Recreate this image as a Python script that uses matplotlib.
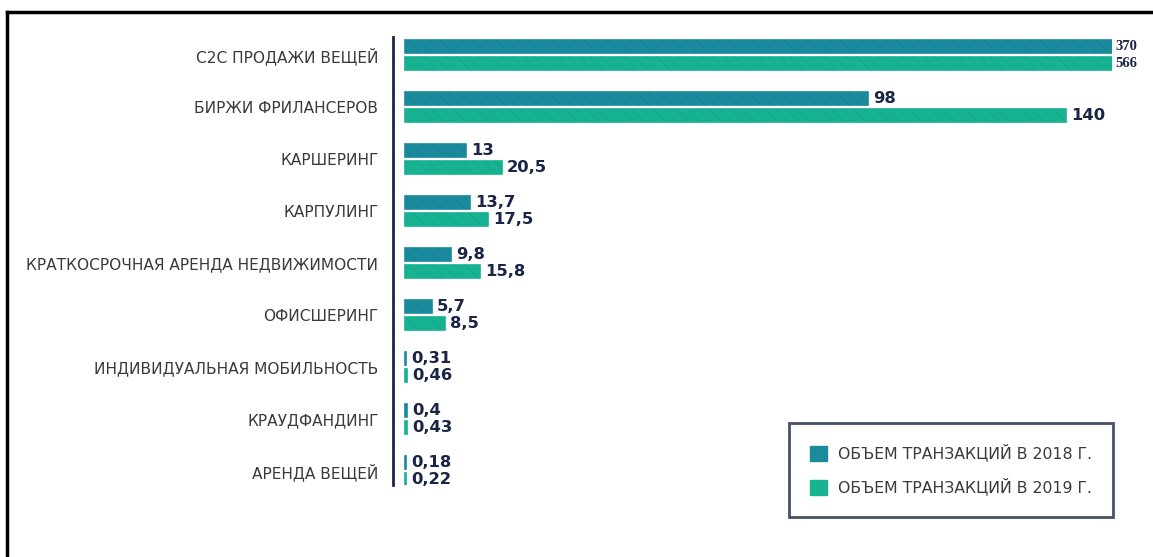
import numpy as np
import matplotlib
matplotlib.use("Agg")
from matplotlib import pyplot as plt
from matplotlib.patches import Patch
from matplotlib.lines import Line2D

categories = [
    "C2C ПРОДАЖИ ВЕЩЕЙ",
    "БИРЖИ ФРИЛАНСЕРОВ",
    "КАРШЕРИНГ",
    "КАРПУЛИНГ",
    "КРАТКОСРОЧНАЯ АРЕНДА НЕДВИЖИМОСТИ",
    "ОФИСШЕРИНГ",
    "ИНДИВИДУАЛЬНАЯ МОБИЛЬНОСТЬ",
    "КРАУДФАНДИНГ",
    "АРЕНДА ВЕЩЕЙ",
]
values_2018 = [370, 98, 13, 13.7, 9.8, 5.7, 0.31, 0.4, 0.18]
values_2019 = [566, 140, 20.5, 17.5, 15.8, 8.5, 0.46, 0.43, 0.22]
series_labels = ["ОБЪЕМ ТРАНЗАКЦИЙ В 2018 Г.", "ОБЪЕМ ТРАНЗАКЦИЙ В 2019 Г."]

c18 = "#1a8a9c"
c19 = "#17b292"
navy = "#1a2444"

W, H = 1153, 557
fig = plt.figure(figsize=(W / 100, H / 100), dpi=100)
fig.patch.set_facecolor("white")

# axes placed in pixel terms of the reference
ax = fig.add_axes([393 / W, 1 - 485 / H, (1112 - 393) / W, (485 - 37) / H])
ax.set_facecolor("none")

scale = 4.72  # px per unit
xmin = -12 / scale
xmax = (1112 - 405) / scale
ax.set_xlim(xmin, xmax)

y = np.arange(len(categories))
ax.set_ylim(len(categories) - 1 + 0.27, -0.346)

bh = 0.25
off = 0.165
plt.rcParams["hatch.linewidth"] = 0.5
ax.barh(y - off, values_2018, height=bh, color=c18, edgecolor=c18, linewidth=1.2)
ax.barh(y + off, values_2019, height=bh, color=c19, edgecolor=c19, linewidth=1.2)
# subtle texture on the bars
ax.barh(y - off, values_2018, height=bh, facecolor="none", edgecolor="#0f6f80", linewidth=0, hatch="\\\\\\", alpha=0.35)
ax.barh(y + off, values_2019, height=bh, facecolor="none", edgecolor="#0e8f74", linewidth=0, hatch="\\\\\\", alpha=0.35)


def fmt(v):
    return ("%g" % v).replace(".", ",")


for yi, v18, v19 in zip(y, values_2018, values_2019):
    for yy, v in ((yi - off, v18), (yi + off, v19)):
        if v > xmax:
            ax.text(xmax + 0.8, yy, fmt(v), va="center", ha="left", fontsize=10.5,
                    fontweight="bold", family="Liberation Serif", color=navy, clip_on=False)
        else:
            ax.text(v + 1.1, yy, fmt(v), va="center", ha="left", fontsize=11.8,
                    fontweight="bold", color=navy)

ax.set_yticks(y)
ax.set_yticklabels(categories, fontsize=11.1, family="DejaVu Sans", color="#3a3a3a")
ax.tick_params(axis="y", length=0, pad=10.5)
ax.set_xticks([])
for s in ["top", "right", "bottom"]:
    ax.spines[s].set_visible(False)
ax.spines["left"].set_color(navy)
ax.spines["left"].set_linewidth(2)

handles = [Patch(facecolor=c18, edgecolor=c18), Patch(facecolor=c19, edgecolor=c19)]
leg = fig.legend(handles, series_labels, loc="lower right",
                 bbox_to_anchor=(1113 / W, 1 - 517 / H), frameon=True, fancybox=False,
                 prop={"family": "DejaVu Sans", "size": 11.3}, labelcolor="#3a3a3a",
                 handlelength=1.1, handleheight=1.1, handletextpad=0.65,
                 labelspacing=1.05, borderpad=1.35, borderaxespad=0)
leg.get_frame().set_edgecolor(navy)
leg.get_frame().set_linewidth(2)

# outer frame lines (top and left)
fig.add_artist(Line2D([7 / W, 1], [1 - 12 / H, 1 - 12 / H], color="black", lw=2.5, transform=fig.transFigure))
fig.add_artist(Line2D([7 / W, 7 / W], [0, 1 - 12 / H], color="black", lw=2.5, transform=fig.transFigure))

fig.savefig("out.png", dpi=100)
